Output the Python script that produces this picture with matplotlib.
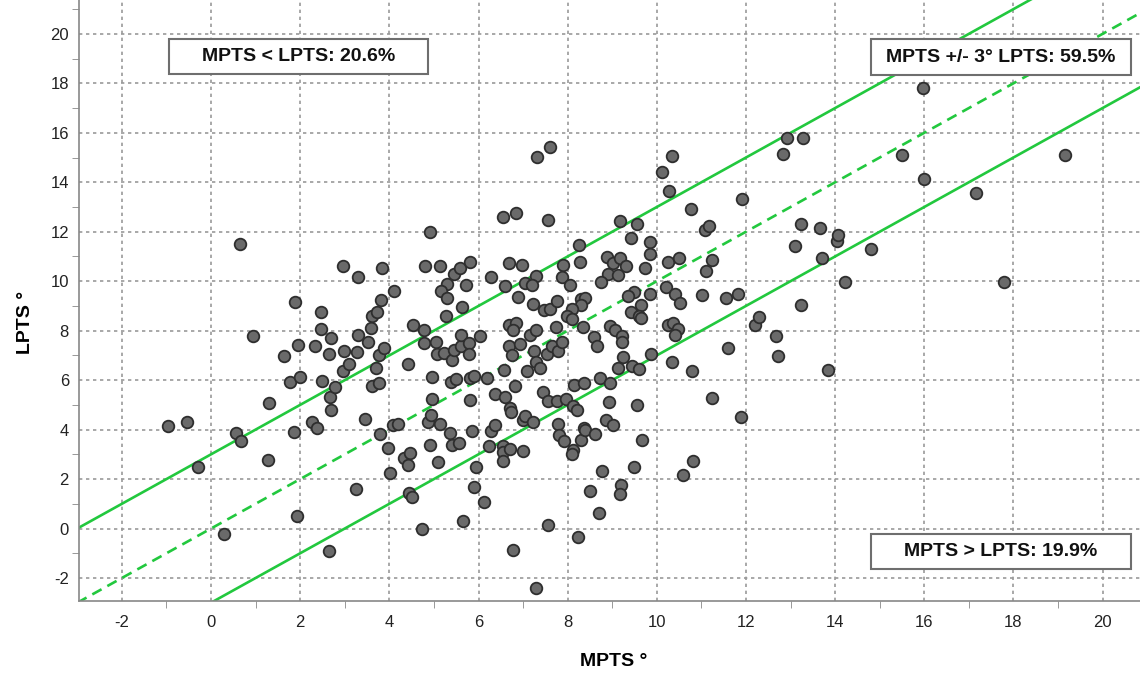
import matplotlib
matplotlib.use('Agg')
import matplotlib.pyplot as plt
from matplotlib.patches import Rectangle
from matplotlib.ticker import MultipleLocator

# MPTS (x) and LPTS (y), degrees
mpts = [
    -0.97, -0.55, -0.3, 0.29, 0.57, 0.67, 0.65, 0.93, 1.27, 1.29, 1.64, 1.76,
    1.86, 1.88, 1.92, 1.94, 2.0, 2.27, 2.34, 2.38, 2.47, 2.47, 2.5, 2.64, 2.64,
    2.67, 2.68, 2.68, 2.78, 2.95, 2.97, 2.99,
    6.55, 6.85, 7.56, 4.92, 3.29, 3.84, 4.1, 4.8, 5.13, 5.46, 5.59, 5.8, 5.29,
    5.16, 5.29, 5.71, 5.64, 5.28, 6.27, 6.68, 6.98, 6.59, 6.88, 7.29, 7.05,
    7.21, 7.22, 7.46, 7.61, 7.75, 7.9, 7.87, 8.05, 8.26, 8.28, 8.88, 8.9, 8.75,
    8.31, 8.4, 8.3, 8.1, 7.98, 8.09, 8.35, 7.73, 8.59, 8.65, 8.95, 3.61, 3.73,
    3.82, 3.59, 3.3, 3.52, 3.27, 3.1, 3.71, 3.76, 3.89, 3.61, 3.77, 4.42, 4.54,
    4.78, 4.78, 5.05, 5.06, 5.22, 5.41, 5.45, 5.6, 5.6, 5.78, 5.78, 6.03, 4.95,
    5.38, 5.5, 5.81, 5.91, 6.19, 4.95, 5.8, 6.37, 6.6, 6.81, 6.58, 6.69, 6.93,
    6.76, 6.69, 6.85, 6.78, 7.16, 7.28, 7.25, 7.53, 7.65, 7.79, 7.87, 7.28,
    7.38, 7.08, 7.44, 7.55, 7.75, 7.96, 8.14, 8.37, 8.73, 8.95, 8.12,
    3.46, 3.78, 4.09, 4.19, 3.97, 4.02, 3.26, 4.32, 4.46, 4.42, 4.45, 4.51,
    4.74, 4.86, 4.94, 5.13, 4.91, 5.1, 5.37, 5.4, 5.57, 5.85, 5.66, 5.95, 5.9,
    6.12, 6.24, 6.29, 6.36, 6.71, 6.74, 6.54, 6.54, 6.54, 6.7, 6.99, 6.99,
    7.05, 7.23, 6.78, 7.56, 7.29, 7.79, 7.8, 7.92, 8.21, 8.13, 8.1, 8.3, 8.36,
    8.4, 8.61, 8.87, 8.77, 8.51, 8.7, 8.23,
    10.77, 9.18, 9.56, 9.43, 9.85, 9.85, 9.01, 9.18, 9.31, 9.14, 9.74, 10.24,
    10.5, 11.24, 11.1, 11.09, 11.18, 10.21, 10.41, 10.52, 11.01, 11.55, 11.83,
    9.85, 9.48, 9.36, 9.64, 9.41, 9.61, 9.65, 9.07, 9.23, 9.23, 9.24, 9.12,
    9.44, 9.59, 9.87, 10.24, 10.37, 10.47, 10.41, 10.34, 10.8, 11.6, 12.2,
    12.3, 12.67, 12.71, 13.09, 13.24, 13.67, 14.04, 14.07, 13.7, 14.22, 13.23,
    13.83, 14.8, 11.24, 9.56, 8.92,
    9.02, 9.66, 9.48, 9.2, 9.18, 10.59, 10.82, 11.89,
    7.31, 7.61, 10.35, 10.12, 10.28, 11.92, 12.93, 13.27, 12.83,
    15.98, 15.49, 15.99, 17.17, 19.15, 17.78,
]
lpts = [
    4.14, 4.31, 2.49, -0.22, 3.87, 3.54, 11.5, 7.78, 2.76, 5.08, 6.98, 5.91,
    3.91, 9.14, 0.5, 7.43, 6.12, 4.31, 7.36, 4.06, 8.74, 8.05, 5.95, 7.04,
    -0.89, 5.32, 7.71, 4.8, 5.72, 6.35, 10.62, 7.16,
    12.59, 12.75, 12.47, 11.99, 10.19, 10.53, 9.6, 10.62, 10.62, 10.3, 10.53,
    10.77, 9.88, 9.6, 9.34, 9.84, 8.96, 8.58, 10.19, 10.73, 10.66, 9.79, 9.37,
    10.23, 9.91, 9.83, 9.07, 8.83, 8.86, 9.18, 10.65, 10.17, 9.86, 11.46,
    10.76, 10.96, 10.3, 9.95, 9.29, 9.34, 9.02, 8.87, 8.58, 8.47, 8.16, 8.16,
    7.73, 7.4, 8.17, 8.58, 8.74, 9.22, 8.1, 7.83, 7.56, 7.13, 6.66, 6.51, 7.02,
    7.28, 5.76, 5.88, 6.66, 8.24, 8.01, 7.52, 7.56, 7.05, 7.1, 6.82, 7.2, 7.36,
    7.83, 7.5, 7.06, 7.78, 6.11, 5.92, 6.03, 6.08, 6.17, 6.08, 5.24, 5.2, 5.43,
    5.3, 5.78, 6.42, 7.39, 7.47, 7.02, 8.21, 8.3, 8.02, 7.83, 8.01, 7.18, 7.06,
    7.4, 7.16, 7.54, 6.73, 6.48, 6.35, 5.54, 5.16, 5.16, 5.22, 5.81, 5.88,
    6.07, 5.88, 4.97,
    4.41, 3.83, 4.18, 4.21, 3.25, 2.25, 1.58, 2.86, 3.07, 2.55, 1.42, 1.28,
    -0.02, 4.3, 4.61, 4.22, 3.37, 2.67, 3.87, 3.37, 3.45, 3.96, 0.3, 2.49,
    1.68, 1.08, 3.33, 3.94, 4.17, 4.87, 4.7, 3.32, 3.09, 2.71, 3.21, 3.13,
    4.38, 4.54, 4.31, -0.85, 0.13, -2.4, 4.21, 3.8, 3.53, 4.79, 3.19, 3.03,
    3.57, 4.05, 3.98, 3.84, 4.38, 2.33, 1.51, 0.63, -0.34,
    12.93, 12.44, 12.32, 11.74, 11.57, 11.12, 10.73, 10.93, 10.6, 10.26,
    10.52, 10.76, 10.93, 10.84, 10.4, 12.08, 12.24, 9.77, 9.48, 9.1, 9.43,
    9.32, 9.49, 9.49, 9.56, 9.39, 9.05, 8.75, 8.58, 8.51, 8.03, 7.77, 7.54,
    6.92, 6.51, 6.58, 6.47, 7.06, 8.24, 8.33, 8.07, 7.83, 6.73, 6.35, 7.29,
    8.24, 8.55, 7.79, 6.96, 11.41, 12.31, 12.15, 11.61, 11.85, 10.93, 9.96,
    9.05, 6.39, 11.31, 5.27, 5.0, 5.1,
    4.18, 3.58, 2.48, 1.76, 1.38, 2.18, 2.75, 4.51,
    15.03, 15.42, 15.06, 14.41, 13.66, 13.32, 15.79, 15.79, 15.13,
    17.82, 15.1, 14.14, 13.58, 15.11, 9.95,
]

band = 3
line_x = [-3, 22]
box_texts = ['MPTS < LPTS: 20.6%', 'MPTS +/- 3° LPTS: 59.5%', 'MPTS > LPTS: 19.9%']

green = '#22c83e'


def main():
    plt.rcParams['axes.unicode_minus'] = False
    plt.rcParams['font.family'] = ['Liberation Sans', 'DejaVu Sans']

    fig = plt.figure(figsize=(11.4, 6.74), dpi=100)
    ax = fig.add_axes([0.069, 0.1076, 0.931, 0.8924])

    ax.plot(line_x, [v + band for v in line_x], color=green, lw=1.9, zorder=2)
    ax.plot(line_x, [v - band for v in line_x], color=green, lw=1.9, zorder=2)
    ax.plot(line_x, line_x, color=green, lw=1.9, dashes=(4, 2.5), zorder=2)

    ax.scatter(mpts, lpts, s=70, color='#6a6a6a', edgecolors='#2e2e2e',
               linewidths=1.3, zorder=3)

    ax.set_xlim(-2.97, 20.84)
    ax.set_ylim(-2.95, 21.37)

    for a in (ax.xaxis, ax.yaxis):
        a.set_major_locator(MultipleLocator(2))
        # tick marks sit between the labelled values
        a.set_minor_locator(MultipleLocator(2, offset=1))
    ax.tick_params(which='major', length=0, labelsize=12, labelcolor='#222222')
    ax.tick_params(axis='x', which='major', pad=10)
    ax.tick_params(axis='y', which='major', pad=7)
    ax.tick_params(which='minor', length=5, color='#888888', direction='out')

    ax.grid(True, which='major', color='#9a9a9a', lw=1.2, ls=(0, (2, 2.2)))
    ax.set_axisbelow(True)
    for side in ('top', 'right'):
        ax.spines[side].set_visible(False)
    for side in ('left', 'bottom'):
        ax.spines[side].set_color('#888888')
        ax.spines[side].set_linewidth(1.2)

    fig.text(25 / 1140, 1 - 322 / 674, 'LPTS °', rotation=90, fontsize=14,
             fontweight='bold', ha='center', va='center')
    fig.text(614 / 1140, 1 - 662 / 674, 'MPTS °', fontsize=14,
             fontweight='bold', ha='center', va='center')

    # annotation boxes, pixel extents from the reference
    boxes = [(169, 39, 428, 74), (871, 39, 1131, 75), (871, 534, 1131, 569)]
    for (x0, y0, x1, y1), txt in zip(boxes, box_texts):
        fx0, fx1 = x0 / 1140, x1 / 1140
        fy0, fy1 = 1 - y1 / 674, 1 - y0 / 674
        rect = Rectangle((fx0, fy0), fx1 - fx0, fy1 - fy0, transform=fig.transFigure,
                         facecolor='white', edgecolor='#6e6e6e', lw=1.5, zorder=5)
        fig.patches.append(rect)
        fig.text((fx0 + fx1) / 2, (fy0 + fy1) / 2, txt, fontsize=14,
                 fontweight='bold', ha='center', va='center', zorder=6,
                 color='#111111')

    fig.savefig('out.png', dpi=100)


if __name__ == '__main__':
    main()
